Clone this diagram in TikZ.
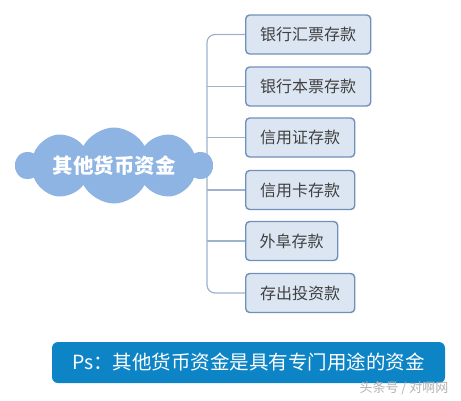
\documentclass[tikz,border=0pt]{standalone}
\usepackage{fontspec}
\setmainfont{Noto Sans CJK SC}
\usetikzlibrary{shapes.symbols}
\definecolor{boxfill}{HTML}{DCE6F2}
\definecolor{boxline}{HTML}{7090B8}
\definecolor{conncol}{HTML}{9CB2CD}
\definecolor{cloudcol}{HTML}{8EB4E3}
\definecolor{bannercol}{HTML}{0C84C6}
\definecolor{txtcol}{HTML}{404040}
\tikzset{
  itembox/.style={draw=boxline, line width=1.4pt, fill=boxfill, rounded corners=4pt,
    anchor=west, minimum height=39pt, inner xsep=0pt, text=txtcol,
    font=\fontsize{16}{16}\selectfont},
  conn/.style={draw=conncol, line width=1.2pt},
}
\begin{document}
\begin{tikzpicture}[x=1pt,y=-1pt]
\useasboundingbox (0,0) rectangle (461,400);
\node[itembox, minimum width=125pt] (b1) at (245,34.5) {银行汇票存款};
\node[itembox, minimum width=125pt] (b2) at (245,86.5) {银行本票存款};
\node[itembox, minimum width=109pt] (b3) at (245,137.5) {信用证存款};
\node[itembox, minimum width=109pt] (b4) at (245,190) {信用卡存款};
\node[itembox, minimum width=92pt] (b5) at (245,241) {外阜存款};
\node[itembox, minimum width=109pt] (b6) at (245,293) {存出投资款};
\coordinate (spine) at (207,165);
\draw[conn, rounded corners=8pt] (b1.west) -| (spine) |- (b6.west);
\foreach \b in {b2,b3,b4,b5} \draw[conn] (\b.west) -- (\b.west -| spine);
\node[cloud, cloud puffs=10, cloud puff arc=125, aspect=2.6, fill=cloudcol, draw=none,
  minimum width=196pt, minimum height=76pt, inner sep=0pt] (cl) at (114,165.5) {};
\node[text=white, font=\fontsize{20.5}{20.5}\selectfont\bfseries] (ct) at (cl.center) {其他货币资金};
\node[fill=bannercol, rounded corners=6pt, minimum width=393pt, minimum height=41pt,
  text=white, font=\fontsize{19.5}{19.5}\selectfont] (ban) at (248.5,362.5) {Ps：其他货币资金是具有专门用途的资金};
\node[text=black!30, font=\fontsize{13}{13}\selectfont, anchor=east] (wm) at (452,388) {头条号 / 对啊网};
\end{tikzpicture}
\end{document}
